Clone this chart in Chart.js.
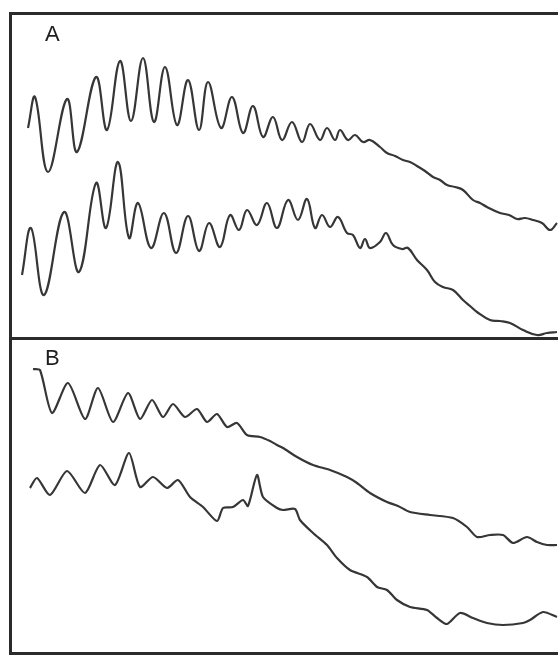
<!DOCTYPE html>
<html>
<head>
<meta charset="utf-8">
<script src="https://cdn.jsdelivr.net/npm/chart.js@4.4.1/dist/chart.umd.min.js"></script>
<style>
  html, body { margin: 0; padding: 0; background: #fff; }
  body { width: 558px; height: 655px; position: relative; overflow: hidden; font-family: "Liberation Sans", Arial, sans-serif; }
  .line { position: absolute; background: #2b2b2b; }
  .panel { position: absolute; left: 12px; width: 546px; }
  .label { position: absolute; font-size: 22px; color: #1e1e1e; line-height: 1; }
</style>
</head>
<body>
<div class="line" style="left:10px; top:12px; width:548px; height:3px;"></div>
<div class="line" style="left:10px; top:337px; width:548px; height:3px;"></div>
<div class="line" style="left:10px; top:652px; width:548px; height:3px;"></div>
<div class="line" style="left:9px; top:12px; width:3px; height:643px;"></div>

<div class="panel" style="top:15px; height:322px;"><canvas id="chartA"></canvas></div>
<div class="panel" style="top:340px; height:312px;"><canvas id="chartB"></canvas></div>

<div class="label" style="left:45px; top:23px;">A</div>
<div class="label" style="left:45px; top:347px;">B</div>

<script>
// panel A, upper trace [position, intensity]
const traceA1 = [
  [16, 209], [23, 240], [36, 165], [55, 238], [65, 185], [84, 260], [95, 207],
  [108, 276], [119, 216], [131, 279], [142, 215], [153, 270], [165, 212], [176, 257],
  [187, 207], [196, 255], [209, 209], [220, 240], [231, 204], [241, 231], [251, 200],
  [261, 220], [270, 197], [280, 215], [290, 195], [298, 213], [308, 197], [315, 209],
  [323, 197], [328, 207], [336, 197], [343, 202], [351, 195], [358, 197], [368, 190],
  [375, 184], [383, 181], [391, 177], [398, 175], [405, 171], [413, 166], [421, 160],
  [428, 157], [435, 152], [443, 150], [451, 147], [461, 137], [468, 134], [475, 130],
  [488, 124], [497, 122], [505, 118], [513, 119], [521, 117], [530, 114], [538, 107], [545, 114]
];
// panel A, lower trace
const traceA2 = [
  [10, 62], [19, 109], [32, 42], [52, 125], [67, 65], [84, 154], [94, 109],
  [106, 175], [117, 99], [126, 134], [139, 89], [152, 124], [164, 84], [176, 121],
  [187, 86], [197, 114], [208, 90], [218, 122], [227, 107], [235, 127], [245, 112],
  [255, 134], [265, 109], [276, 137], [286, 117], [295, 138], [303, 109], [310, 122],
  [318, 110], [326, 120], [335, 104], [341, 102], [348, 89], [353, 98], [358, 89],
  [368, 95], [374, 104], [381, 92], [390, 88], [396, 89], [405, 77], [415, 67],
  [423, 55], [431, 50], [441, 47], [451, 37], [458, 31], [465, 25], [478, 17],
  [488, 16], [498, 14], [511, 7], [525, 2], [535, 4], [545, 5]
];
// panel B, upper trace
const traceB1 = [
  [21, 283], [28, 282], [40, 239], [56, 269], [73, 233], [86, 264], [101, 230],
  [116, 259], [128, 233], [140, 252], [151, 235], [161, 248], [173, 235], [185, 243],
  [195, 230], [205, 238], [215, 225], [225, 229], [235, 217], [248, 215], [258, 211],
  [265, 207], [271, 204], [285, 195], [301, 187], [318, 182], [335, 175], [345, 169],
  [358, 159], [375, 150], [386, 146], [398, 140], [418, 137], [441, 134], [455, 125],
  [465, 115], [478, 117], [491, 117], [501, 109], [515, 115], [525, 110], [535, 107], [545, 107]
];
// panel B, lower trace
const traceB2 = [
  [18, 164], [25, 174], [38, 157], [55, 181], [73, 159], [88, 187], [103, 167],
  [117, 199], [128, 165], [141, 175], [155, 164], [166, 172], [178, 155], [191, 145],
  [205, 131], [211, 144], [221, 145], [231, 152], [236, 146], [245, 177], [251, 155],
  [265, 144], [271, 142], [283, 143], [288, 132], [301, 119], [315, 107], [325, 94],
  [338, 82], [355, 75], [365, 65], [375, 62], [385, 52], [398, 45], [415, 42],
  [425, 34], [435, 28], [448, 39], [461, 34], [475, 29], [491, 27], [511, 29],
  [518, 32], [531, 40], [545, 35]
];

const maxA = 322;
const maxB = 312;

function toPoints(trace) {
  return trace.map(([x, y]) => ({ x, y }));
}

function makeChart(id, traces, yMax, tension) {
  const ctx = document.getElementById(id).getContext('2d');
  return new Chart(ctx, {
    type: 'line',
    data: {
      datasets: traces.map((t) => ({
        data: toPoints(t),
        borderColor: '#363636',
        borderWidth: 2.2,
        pointRadius: 0,
        fill: false,
        tension: tension,
      })),
    },
    options: {
      responsive: true,
      maintainAspectRatio: false,
      animation: false,
      layout: { padding: 0 },
      plugins: { legend: { display: false }, tooltip: { enabled: false } },
      scales: {
        x: { type: 'linear', min: 0, max: 546, display: false },
        y: { min: 0, max: yMax, display: false },
      },
    },
  });
}

makeChart('chartA', [traceA1, traceA2], maxA, 0.4);
makeChart('chartB', [traceB1, traceB2], maxB, 0.25);
</script>
</body>
</html>
